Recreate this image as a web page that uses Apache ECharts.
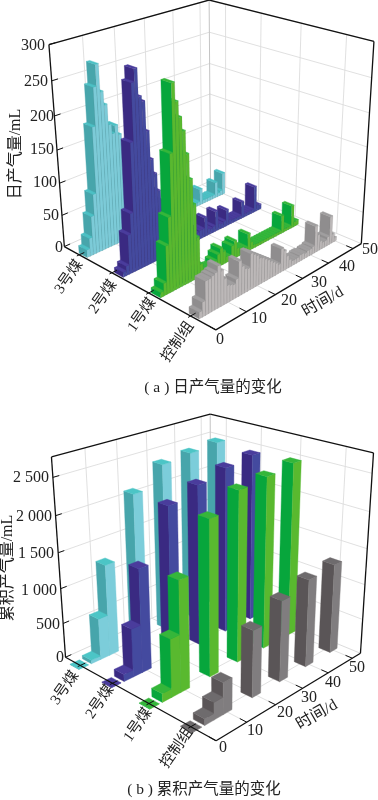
<!DOCTYPE html>
<html><head><meta charset="utf-8">
<style>html,body{margin:0;padding:0;background:#fff}#c{width:378px;height:800px}</style>
<script src="https://cdn.jsdelivr.net/npm/echarts@6/dist/echarts.min.js"></script>
</head><body><div id="c"></div>
<script>
// ---------- data ----------
const categories = ['控制组', '1号煤', '2号煤', '3号煤'];
const dailyDays = [1,2,3,4,5,6,7,8,9,10,11,12,13,14,15,16,17,18,19,20,21,22,23,24,25,26,27,28,29,30,31,32,33,34,35,36,37,38,39,40,41,42,43,44,45,46,47,48,49,50];
const dailyCoal3 = [12,28,60,92,190,245,275,235,215,185,170,180,165,140,115,95,80,65,55,45,38,32,30,30,32,34,32,25,15,10,6,6,6,6,6,6,6,6,6,6,26,6,6,6,6,6,26,6,8,36];
const dailyCoal2 = [8,15,60,90,190,270,287,248,240,197,155,132,105,88,70,55,42,32,25,20,15,14,12,10,10,12,14,14,30,10,8,10,32,10,8,10,26,8,6,6,6,6,27,6,6,6,6,42,10,8];
const dailyCoal1 = [8,19,72,111,197,288,262,240,220,187,150,112,62,19,10,6,6,6,12,20,27,20,10,8,22,27,14,12,8,8,27,12,6,5,5,5,5,5,5,5,5,5,5,28,5,5,5,36,8,8];
const dailyControl = [10,22,50,50,52,54,62,52,38,26,24,22,28,52,42,36,34,54,50,46,40,38,34,30,26,22,18,14,36,30,20,12,8,8,8,10,10,8,10,10,12,42,26,14,10,10,14,44,14,6];
const cumDays = [0,4,7,10,20,30,40,50];
const cumCoal3 = [5,50,590,1300,2125,2400,2440,2475];
const cumCoal2 = [5,100,680,1450,2130,2270,2375,2430];
const cumCoal1 = [5,120,800,1520,2145,2370,2415,2470];
const cumControl = [5,90,240,435,920,1125,1230,1265];
const dailyTicksZ = [0,50,100,150,200,250,300];
const cumTicksZ = [0,500,1000,1500,2000,2500];
const cumLabelsZ = ['0','500','1 000','1 500','2 000','2 500'];
const timeTicks = [0,10,20,30,40,50];
// ---------- appearance / layout ----------
const tickV = [0.147,0.407,0.653,0.887];
const barVA = [0.135,0.37,0.615,0.87];
const barVB = [0.145,0.405,0.66,0.895];
const colorsA = [
 {left:'#8f8d8e',front:'#bcb8b8',top:'#a09e9f'},
 {left:'#07a63c',front:'#59b92f',top:'#35b63a'},
 {left:'#3a2a82',front:'#444a9f',top:'#4a3c9c'},
 {left:'#47a5ab',front:'#7ccbd8',top:'#4cc0c4'}];
const colorsB = [
 {left:'#5a5557',front:'#807d7f',top:'#6e6b6d'},
 {left:'#07a63c',front:'#59b92f',top:'#35b63a'},
 {left:'#3a2a82',front:'#444a9f',top:'#4a3c9c'},
 {left:'#47a5ab',front:'#7ccdda',top:'#4cc5c6'}];
const FONT = '"Liberation Serif","Noto Sans CJK SC",serif';
const TXT = '#222';
const UMAX = 53.5;
function makeCamera(pts){
  const n=11, M=Array.from({length:n},()=>new Array(n+1).fill(0));
  const add=(r,b)=>{for(let i=0;i<n;i++){for(let j=0;j<n;j++)M[i][j]+=r[i]*r[j];M[i][n]+=r[i]*b;}};
  pts.forEach(([u,v,w,x,y])=>{
    add([u,v,w,1,0,0,0,0,-x*u,-x*v,-x*w],x);
    add([0,0,0,0,u,v,w,1,-y*u,-y*v,-y*w],y);
  });
  for(let i=0;i<n;i++){
    let p=i;for(let k=i+1;k<n;k++)if(Math.abs(M[k][i])>Math.abs(M[p][i]))p=k;
    [M[i],M[p]]=[M[p],M[i]];
    for(let k=0;k<n;k++){if(k===i)continue;const f=M[k][i]/M[i][i];for(let j=i;j<=n;j++)M[k][j]-=f*M[i][j];}
  }
  const h=M.map((r,i)=>r[n]/r[i]);
  return (u,v,w)=>{const d=h[8]*u+h[9]*v+h[10]*w+1;
    return [(h[0]*u+h[1]*v+h[2]*w+h[3])/d,(h[4]*u+h[5]*v+h[6]*w+h[7])/d];};
}
const camA = makeCamera([[0,0,0,215,330],[1,0,0,362,243],[0,1,0,65,247],[1,1,0,210,181],[0,1,1,49,44],[1,0,1,374,42],[1,1,1,209,0]]);
const camB = makeCamera([[0,0,0,216,741],[1,0,0,361,653],[0,1,0,66,657],[1,1,0,210,592],[0,1,1,51,457],[1,0,1,373,453],[1,1,1,211,414]]);

const barSeries=(name,days,vals,cam,zmax,col,catIdx,barV,halfU,halfV,zBase,solid)=>({
  type:'custom',name,coordinateSystem:'cartesian2d',clip:false,silent:true,animation:false,z:zBase+(3-catIdx),
  data:days.map((d,i)=>[d,vals[i]]).reverse(),
  encode:{x:0,y:1},
  renderItem(params,api){
    const d=api.value(0),val=api.value(1);
    const u0=(d-halfU)/UMAX,u1=(d+halfU)/UMAX,vc=barV[catIdx];
    const v0=vc-halfV,v1=vc+halfV,w=val/zmax;
    const P=(u,v,z)=>api.coord(cam(u,v,z));
    const face=(pts,fill,st)=>({type:'polygon',shape:{points:pts},style:{fill,stroke:st||fill,lineWidth:0.4}});
    return {type:'group',children:[
      face([P(u0,v0,0),P(u0,v1,0),P(u0,v1,w),P(u0,v0,w)],col.left),
      face([P(u0,v0,0),P(u1,v0,0),P(u1,v0,w),P(u0,v0,w)],col.front,solid?null:'rgba(70,70,70,0.2)'),
      face([P(u0,v0,w),P(u1,v0,w),P(u1,v1,w),P(u0,v1,w)],col.top)
    ]};
  }
});

function frame(cam,zTicks,zmax,L){
  const g=[];
  const P=cam;
  const line=(a,b,stroke,lw,z)=>g.push({type:'line',z,silent:true,shape:{x1:a[0],y1:a[1],x2:b[0],y2:b[1]},style:{stroke,lineWidth:lw}});
  const GR='#dcdcdc', BK='#111';
  zTicks.forEach(t=>{ if(!t)return; const w=t/zmax;
    line(P(0,1,w),P(1,1,w),GR,0.9,1); line(P(1,1,w),P(1,0,w),GR,0.9,1); });
  timeTicks.forEach(t=>{ if(!t||t>=UMAX)return; const u=t/UMAX;
    line(P(u,1,0),P(u,1,1),GR,0.9,1); line(P(u,0,0),P(u,1,0),GR,0.9,1); });
  tickV.forEach(v=>{ line(P(1,v,0),P(1,v,1),GR,0.9,1); line(P(0,v,0),P(1,v,0),GR,0.9,1); });
  line(P(1,1,0),P(1,1,1),'#c4c4c4',1,1);
  line(P(1,1,0),P(0,1,0),GR,1,1); line(P(1,1,0),P(1,0,0),GR,1,1);
  line(P(0,1,0),P(0,0,0),BK,1.3,30); line(P(0,0,0),P(1,0,0),BK,1.3,30);
  line(P(0,1,0),P(0,1,1),BK,1.3,1); line(P(1,0,0),P(1,0,1),BK,1.3,1);
  line(P(0,1,1),P(1,1,1),BK,1.3,1); line(P(1,1,1),P(1,0,1),BK,1.3,1);
  zTicks.forEach(t=>{const w=t/zmax; line(P(0,1,w),P(0.035,1,w),BK,1,1);});
  timeTicks.forEach(t=>{const u=t/UMAX; line(P(u,0,0),P(u,0.04,0),BK,1,30);});
  tickV.forEach(v=>{line(P(-0.015,v,0),P(0.03,v,0),BK,1,30);});
  const text=(s,x,y,fs,rot,align)=>g.push({type:'text',z:40,silent:true,x,y,rotation:(rot||0)*Math.PI/180,
    style:{text:s,font:fs+'px '+FONT,fill:TXT,align:align||'center',verticalAlign:'middle'}});
  L.zLabels.forEach((s,i)=>text(s,L.zPos[i][0],L.zPos[i][1],16,0,'right'));
  L.tPos.forEach((p,i)=>text(String(timeTicks[i]),p[0],p[1],16,0));
  L.cPos.forEach((p,i)=>text(categories[i],p[0],p[1],15,L.cRot));
  text(L.zTitle,L.zTitlePos[0],L.zTitlePos[1],16,90);
  text('时间/d',L.tTitlePos[0],L.tTitlePos[1],16,30);
  text(L.caption,L.capPos[0],L.capPos[1],15.5,0);
  return g;
}
const layoutA={zLabels:dailyTicksZ.map(String),
  zPos:[[63,248],[59,216],[57,183],[54,150],[54,117],[48,82],[45,46]],
  tPos:[[220,340],[259,319],[289,301],[319,283],[347,267],[370,250]],
  cPos:[[178,342],[142,315],[103,297],[69,277]],cRot:55,
  zTitle:'日产气量/mL',zTitlePos:[16,154],tTitlePos:[323,302],
  caption:'( a ) 日产气量的变化',capPos:[213,388]};
const layoutB={zLabels:cumLabelsZ,
  zPos:[[64,658],[60,625],[57,591],[54,554],[52,517],[49,478]],
  tPos:[[223,748],[255,731],[285,713],[309,698],[333,683],[357,668]],
  cPos:[[177,748],[138,725],[100,702],[65,688]],cRot:55,
  zTitle:'累积产气量/mL',zTitlePos:[8,568],tTitlePos:[317,715],
  caption:'( b ) 累积产气量的变化',capPos:[204,790]};

const dailySets=[dailyControl,dailyCoal1,dailyCoal2,dailyCoal3];
const cumSets=[cumControl,cumCoal1,cumCoal2,cumCoal3];
const series=[];
[3,2,1,0].forEach(i=>series.push(barSeries(categories[i]+'日产',dailyDays,dailySets[i],camA,300,colorsA[i],i,barVA,0.5,0.03,5,false)));
[3,2,1,0].forEach(i=>series.push(barSeries(categories[i]+'累积',cumDays,cumSets[i],camB,2760,colorsB[i],i,barVB,1.5,0.034,5,true)));
const chart=echarts.init(document.getElementById('c'),null,{renderer:'canvas'});
chart.setOption({animation:false,backgroundColor:'#fff',
  grid:{left:0,right:0,top:0,bottom:0},
  xAxis:{type:'value',min:0,max:378,show:false},
  yAxis:{type:'value',min:0,max:800,inverse:true,show:false},
  graphic:{elements:[...frame(camA,dailyTicksZ,300,layoutA),...frame(camB,cumTicksZ,2760,layoutB)]},
  series});
</script></body></html>
